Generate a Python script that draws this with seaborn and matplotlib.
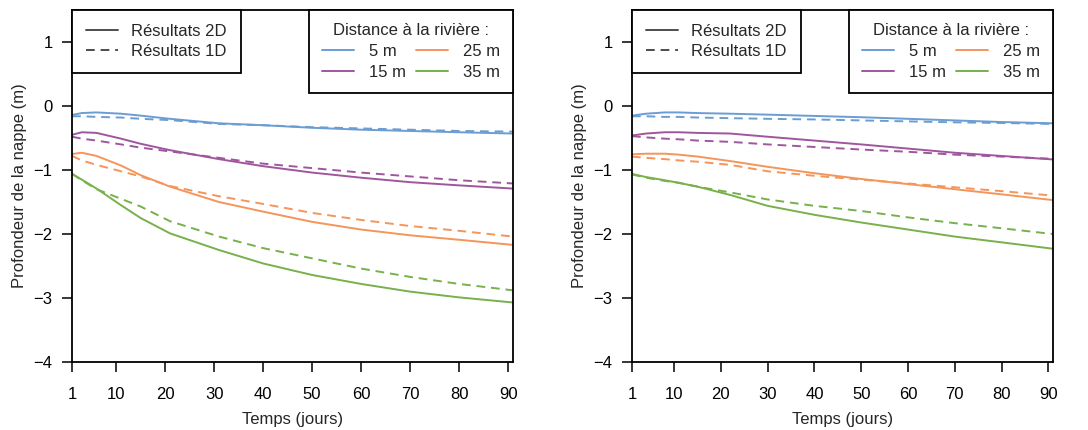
import pandas as pd
import matplotlib
matplotlib.use("Agg")
import matplotlib.pyplot as plt
from matplotlib.lines import Line2D
import seaborn as sns

# Panel 1 (left)
jours_a = [1, 3, 6, 11, 15, 21, 31, 40, 50, 60, 70, 80, 91]
a_2d_5 = [-0.14, -0.11, -0.10, -0.12, -0.15, -0.20, -0.27, -0.30, -0.34, -0.37, -0.39, -0.41, -0.43]
a_1d_5 = [-0.16, -0.16, -0.17, -0.18, -0.20, -0.22, -0.28, -0.30, -0.33, -0.35, -0.37, -0.39, -0.40]
a_2d_15 = [-0.45, -0.41, -0.42, -0.51, -0.59, -0.69, -0.83, -0.94, -1.04, -1.12, -1.19, -1.24, -1.29]
a_1d_15 = [-0.48, -0.51, -0.54, -0.60, -0.65, -0.71, -0.81, -0.90, -0.97, -1.04, -1.10, -1.16, -1.21]
a_2d_25 = [-0.75, -0.73, -0.78, -0.93, -1.08, -1.26, -1.50, -1.65, -1.81, -1.93, -2.02, -2.09, -2.17]
a_1d_25 = [-0.78, -0.85, -0.92, -1.02, -1.10, -1.25, -1.41, -1.53, -1.67, -1.78, -1.875, -1.95, -2.04]
a_2d_35 = [-1.06, -1.15, -1.29, -1.55, -1.75, -1.99, -2.25, -2.46, -2.64, -2.78, -2.90, -2.99, -3.07]
a_1d_35 = [-1.06, -1.16, -1.30, -1.45, -1.57, -1.80, -2.04, -2.22, -2.38, -2.54, -2.67, -2.78, -2.88]

# Panel 2 (right)
jours_b = [1, 4, 8, 11, 15, 22, 30, 40, 50, 60, 70, 80, 91]
b_2d_5 = [-0.15, -0.12, -0.10, -0.10, -0.11, -0.12, -0.135, -0.155, -0.175, -0.20, -0.225, -0.25, -0.27]
b_1d_5 = [-0.16, -0.16, -0.17, -0.17, -0.18, -0.19, -0.20, -0.21, -0.225, -0.24, -0.255, -0.265, -0.28]
b_2d_15 = [-0.46, -0.43, -0.41, -0.41, -0.42, -0.43, -0.48, -0.54, -0.60, -0.665, -0.73, -0.78, -0.835]
b_1d_15 = [-0.47, -0.49, -0.51, -0.52, -0.54, -0.56, -0.60, -0.64, -0.68, -0.715, -0.76, -0.79, -0.825]
b_2d_25 = [-0.755, -0.745, -0.745, -0.76, -0.79, -0.86, -0.95, -1.05, -1.14, -1.22, -1.30, -1.38, -1.47]
b_1d_25 = [-0.79, -0.81, -0.83, -0.85, -0.87, -0.92, -1.02, -1.09, -1.15, -1.21, -1.27, -1.33, -1.40]
b_2d_35 = [-1.06, -1.11, -1.16, -1.20, -1.26, -1.39, -1.56, -1.70, -1.82, -1.93, -2.04, -2.13, -2.23]
b_1d_35 = [-1.07, -1.12, -1.17, -1.20, -1.26, -1.35, -1.46, -1.56, -1.64, -1.74, -1.83, -1.91, -2.00]

distances = ['5 m', '15 m', '25 m', '35 m']
modeles = ['Résultats 2D', 'Résultats 1D']
couleurs = {'5 m': '#6b9dd3', '15 m': '#a0569e', '25 m': '#f5955a', '35 m': '#78b04c'}
xticks = [1, 10, 20, 30, 40, 50, 60, 70, 80, 90]
yticks = [1, 0, -1, -2, -3, -4]


def long_df(jours, series):
    rows = []
    for (dist, mod), vals in series.items():
        for j, v in zip(jours, vals):
            rows.append({'jour': j, 'prof': v, 'distance': dist, 'modele': mod})
    return pd.DataFrame(rows)


df_a = long_df(jours_a, {
    ('5 m', 'Résultats 2D'): a_2d_5, ('5 m', 'Résultats 1D'): a_1d_5,
    ('15 m', 'Résultats 2D'): a_2d_15, ('15 m', 'Résultats 1D'): a_1d_15,
    ('25 m', 'Résultats 2D'): a_2d_25, ('25 m', 'Résultats 1D'): a_1d_25,
    ('35 m', 'Résultats 2D'): a_2d_35, ('35 m', 'Résultats 1D'): a_1d_35,
})
df_b = long_df(jours_b, {
    ('5 m', 'Résultats 2D'): b_2d_5, ('5 m', 'Résultats 1D'): b_1d_5,
    ('15 m', 'Résultats 2D'): b_2d_15, ('15 m', 'Résultats 1D'): b_1d_15,
    ('25 m', 'Résultats 2D'): b_2d_25, ('25 m', 'Résultats 1D'): b_1d_25,
    ('35 m', 'Résultats 2D'): b_2d_35, ('35 m', 'Résultats 1D'): b_1d_35,
})

sns.set_style('white')
plt.rcParams['font.family'] = ['Liberation Sans', 'DejaVu Sans']
fs = 12
plt.rcParams['font.size'] = fs

dashes = {'Résultats 2D': '', 'Résultats 1D': (4.5, 3)}
lw = 1.4

fig = plt.figure(figsize=(10.88, 4.30), dpi=100)
ax1 = fig.add_axes([0.0662, 0.1581, 0.4053, 0.8186])
ax2 = fig.add_axes([0.5809, 0.1581, 0.3869, 0.8186])

for ax, df in [(ax1, df_a), (ax2, df_b)]:
    sns.lineplot(data=df, x='jour', y='prof', hue='distance', style='modele',
                 hue_order=distances, style_order=modeles, palette=couleurs,
                 dashes=dashes, linewidth=lw, legend=False, ax=ax)
    ax.set_xlim(1, 91)
    ax.set_ylim(-4, 1.5)
    ax.set_xticks(xticks)
    ax.set_yticks(yticks)
    ax.set_yticklabels([str(t).replace('-', '\u2212') for t in yticks])
    ax.tick_params(axis='both', direction='out', length=7, width=1.1,
                   colors='black', labelsize=fs, pad=7, left=True, bottom=True)
    ax.tick_params(axis='x', pad=11)
    for sp in ax.spines.values():
        sp.set_visible(True)
        sp.set_color('black')
        sp.set_linewidth(1.3)
    ax.set_xlabel('Temps (jours)', fontsize=fs)
    ax.set_ylabel('Profondeur de la nappe (m)', fontsize=fs)
    ax.xaxis.set_label_coords(0.5, -0.143)
    ax.yaxis.set_label_coords(-45 / (ax.get_position().width * 1088), 0.5)

    # legend: line type
    h1 = [Line2D([], [], color='#4d4d4d', lw=lw),
          Line2D([], [], color='#4d4d4d', lw=lw, dashes=(4.5, 3))]
    leg1 = ax.legend(h1, modeles, loc='upper left', bbox_to_anchor=(0, 1),
                     borderaxespad=0, frameon=True, fancybox=False,
                     edgecolor='black', framealpha=1, fontsize=fs,
                     handlelength=1.9, handletextpad=0.8, borderpad=0.85,
                     labelspacing=0.3)
    leg1.get_frame().set_linewidth(1.3)
    ax.add_artist(leg1)

    # legend: distance
    h2 = [Line2D([], [], color=couleurs[d], lw=lw) for d in distances]
    leg2 = ax.legend(h2, distances, ncol=2, loc='upper right',
                     bbox_to_anchor=(1, 1), borderaxespad=0, frameon=True,
                     fancybox=False, edgecolor='black', framealpha=1,
                     fontsize=fs, title='Distance à la rivière :',
                     title_fontsize=fs, handlelength=1.9, handletextpad=0.9,
                     columnspacing=0.6, borderpad=0.8, labelspacing=0.35)
    leg2.get_frame().set_linewidth(1.3)

fig.savefig('out.png', dpi=100)
